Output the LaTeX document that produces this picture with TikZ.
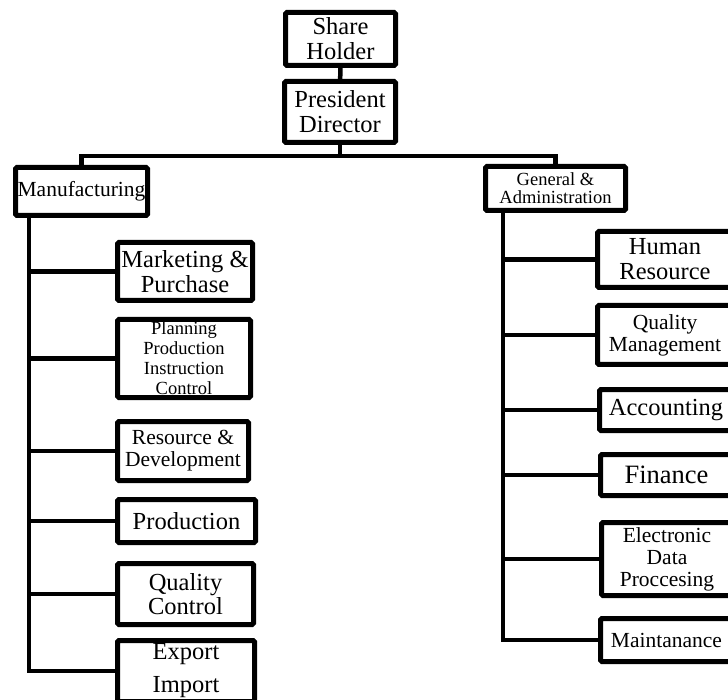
\documentclass[tikz,border=0pt]{standalone}
\usepackage{fontspec}
\setmainfont{Liberation Serif}
\usepackage{tikz}

\newcommand{\fsize}[2]{\fontsize{#1}{#2}\selectfont}

\begin{document}
\begin{tikzpicture}[x=1pt, y=-1pt,
		unit/.style={draw, line width=5pt, rounded corners=1.5pt, align=center, inner sep=0pt, font=\fsize{24.5}{25}},
		link/.style={line width=4.5pt}]
		\useasboundingbox (0, 0) rectangle (728, 700);
		\clip (0, 0) rectangle (728, 700);
		% top
		\node[unit, minimum width=110, minimum height=53] (share) at (340.5, 39) {Share\\Holder};
		\node[unit, minimum width=111, minimum height=61] (pres) at (340, 112) {President\\Director};
		\node[unit, minimum width=132, minimum height=48, font=\fsize{21.5}{22}] (manu) at (81.5, 191.5) {Manufacturing};
		\node[unit, minimum width=140, minimum height=44, font=\fsize{18.5}{18}] (gen) at (555.5, 188.5) {General \&\\Administration};
		\coordinate (bus) at (340, 156);
		\draw[link] (share) -- (pres);
		\draw[link] (pres) -- (bus);
		\draw[link] (manu.north) |- (bus) -| (gen.north);
		% left hand
		\begin{scope}
			\node[unit, minimum width=135, minimum height=58] (mkt) at (185, 271.5) {Marketing \&\\Purchase};
			\node[unit, minimum width=133, minimum height=78, font=\fsize{18.5}{20}] (plan) at (184, 358.5) {Planning\\Production\\Instruction\\Control};
			\node[unit, minimum width=131, minimum height=59, font=\fsize{21.5}{22}] (res) at (183, 451) {Resource \&\\Development};
			\node[unit, minimum width=138, minimum height=43] (prod) at (186.5, 521) {Production};
			\node[unit, minimum width=136, minimum height=61, font=\fsize{24.5}{24}] (qc) at (185.5, 594) {Quality\\Control};
			\node[unit, minimum width=137, minimum height=61] (exim) at (186, 671) {Export\\[8pt]Import};
			\coordinate (lbot) at (29, 671);
			\draw[link] (manu.south -| lbot) -- (lbot) -- (exim.west);
			\foreach \n in {mkt, plan, res, prod, qc}
				\draw[link] (lbot |- \n.west) -- (\n.west);
		\end{scope}
		% right hand
		\begin{scope}
			\node[unit, minimum width=135, minimum height=56] (hr) at (665, 259.5) {Human\\Resource};
			\node[unit, minimum width=135, minimum height=59, font=\fsize{21.5}{22}] (qm) at (665, 335) {Quality\\Management};
			\node[unit, minimum width=133, minimum height=41] (acc) at (666, 410) {Accounting};
			\node[unit, minimum width=132, minimum height=41, font=\fsize{26.5}{27}] (fin) at (666.5, 475) {Finance};
			\node[unit, minimum width=131, minimum height=73, font=\fsize{21.5}{22}] (edp) at (667, 559) {Electronic\\Data\\Proccesing};
			\node[unit, minimum width=132, minimum height=43, font=\fsize{21.5}{22}] (maint) at (666.5, 640) {Maintanance};
			\coordinate (rbot) at (503, 640);
			\draw[link] (gen.south -| rbot) -- (rbot) -- (maint.west);
			\foreach \n in {hr, qm, acc, fin, edp}
				\draw[link] (rbot |- \n.west) -- (\n.west);
		\end{scope}
	\end{tikzpicture}
\end{document}
